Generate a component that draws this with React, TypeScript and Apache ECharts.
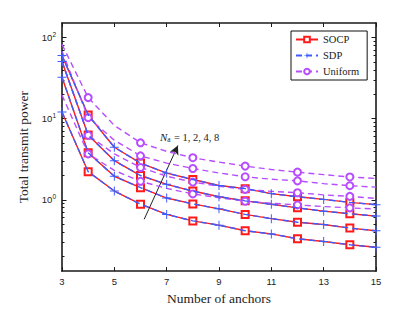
import React, { useEffect, useRef } from 'react';
import * as echarts from 'echarts';

const anchors = [3, 4, 5, 6, 7, 8, 9, 10, 11, 12, 13, 14, 15];
const seriesNames = ['SOCP', 'SDP', 'Uniform'];
const annotationText = '= 1, 2, 4, 8';
const yMajorExponents = [0, 1, 2];
const yMinLog = -0.88;
const yMaxLog = 2.18;

const socpNa1 = [12.1, 2.22, 1.28, 0.883, 0.66, 0.548, 0.486, 0.415, 0.379, 0.33, 0.306, 0.279, 0.259];
const socpNa2 = [32.5, 3.79, 1.95, 1.41, 1.05, 0.888, 0.773, 0.66, 0.585, 0.528, 0.496, 0.447, 0.415];
const socpNa4 = [50.7, 6.29, 3.03, 1.99, 1.55, 1.28, 1.09, 0.97, 0.88, 0.794, 0.723, 0.673, 0.629];
const socpNa8 = [60, 11.1, 4.44, 2.83, 2.13, 1.78, 1.5, 1.37, 1.19, 1.09, 1.01, 0.928, 0.87];

const sdpNa1 = [12.1, 2.22, 1.28, 0.883, 0.66, 0.548, 0.486, 0.415, 0.379, 0.33, 0.306, 0.279, 0.259];
const sdpNa2 = [32.5, 3.79, 1.95, 1.41, 1.05, 0.888, 0.773, 0.66, 0.585, 0.528, 0.496, 0.447, 0.415];
const sdpNa4 = [50.7, 6.29, 3.03, 1.99, 1.55, 1.28, 1.09, 0.97, 0.88, 0.794, 0.723, 0.673, 0.629];
const sdpNa8 = [60, 11.1, 4.44, 2.83, 2.13, 1.78, 1.5, 1.37, 1.19, 1.09, 1.01, 0.928, 0.87];

const uniformNa1 = [19.5, 3.68, 2.3, 1.69, 1.38, 1.18, 1.06, 0.959, 0.907, 0.863, 0.824, 0.794, 0.768];
const uniformNa2 = [50.7, 6.24, 3.68, 2.5, 1.95, 1.65, 1.47, 1.34, 1.27, 1.22, 1.15, 1.1, 1.04];
const uniformNa4 = [67.8, 10.3, 5.43, 3.48, 2.83, 2.43, 2.14, 1.92, 1.79, 1.71, 1.58, 1.49, 1.43];
const uniformNa8 = [82.4, 18.2, 8.24, 5.04, 3.95, 3.3, 2.91, 2.6, 2.36, 2.19, 2.04, 1.91, 1.83];

const RED = '#ff1a1a';
const BLUE = '#3d5cff';
const PURPLE = '#b84dff';
const PLUS = 'path://M0,4.45H4.45V0H5.55V4.45H10V5.55H5.55V10H4.45V5.55H0Z';
const SERIF = '"Liberation Serif", "DejaVu Serif", serif';
const SANS = '"Liberation Sans", Arial, sans-serif';

function makeSeries(
  name: string,
  vals: number[],
  color: string,
  lineType: any,
  symbol: string,
  onEven: boolean,
  symbolSize: number,
  borderWidth: number,
  z: number
): any {
  return {
    type: 'line',
    name,
    z,
    symbol,
    symbolSize,
    showSymbol: true,
    lineStyle: { color, width: 1.4, type: lineType },
    itemStyle: { color, borderColor: color, borderWidth },
    data: anchors.map((x, i) => ({
      value: [x, Math.log10(vals[i])],
      symbol: (x % 2 === 0) === onEven ? symbol : 'none',
    })),
  };
}

function minorTicks(): number[] {
  const out: number[] = [];
  for (let d = -1; d <= 2; d++) {
    for (let k = 2; k <= 9; k++) {
      const v = Math.log10(k * Math.pow(10, d));
      if (v > yMinLog && v < yMaxLog) out.push(v);
    }
  }
  return out;
}

export default function App() {
  const ref = useRef<HTMLDivElement>(null);
  useEffect(() => {
    if (!ref.current) return;
    const chart = echarts.init(ref.current, null, { renderer: 'svg' });
    const minors = minorTicks();
    const frameLine = { show: true, onZero: false, lineStyle: { color: '#1a1a1a', width: 1.6 } };
    const xBase = { type: 'value', min: 3, max: 15, interval: 2, splitLine: { show: false }, gridIndex: 0 };
    const yBase = { type: 'value', min: yMinLog, max: yMaxLog, splitLine: { show: false }, gridIndex: 0 };

    const series: any[] = [];
    [socpNa1, socpNa2, socpNa4, socpNa8].forEach((v, i) =>
      series.push(makeSeries(seriesNames[0], v, RED, 'solid', 'emptyRect', true, 7, 1.1, 2 + i))
    );
    [sdpNa1, sdpNa2, sdpNa4, sdpNa8].forEach((v, i) =>
      series.push(makeSeries(seriesNames[1], v, BLUE, [6, 4], PLUS, false, 9, 0, 10 + i))
    );
    [uniformNa1, uniformNa2, uniformNa4, uniformNa8].forEach((v, i) =>
      series.push(makeSeries(seriesNames[2], v, PURPLE, [6, 4], 'emptyCircle', true, 7, 1.1, 6 + i))
    );
    series[0].markLine = {
      silent: true,
      symbol: ['none', 'arrow'],
      symbolSize: [7, 9],
      label: { show: false },
      lineStyle: { color: '#222', width: 1, type: 'solid' },
      data: [[{ coord: [6.14, -0.241] }, { coord: [7.43, 0.669] }]],
    };

    chart.setOption({
      animation: false,
      backgroundColor: '#fff',
      grid: { left: 46, right: 32, top: 15, bottom: 33 },
      legend: {
        data: seriesNames,
        orient: 'vertical',
        left: 283,
        top: 23,
        padding: [3, 8, 3, 4],
        itemGap: 5,
        itemWidth: 22,
        itemHeight: 7,
        borderColor: '#111',
        borderWidth: 1,
        backgroundColor: '#fff',
        textStyle: { fontFamily: SERIF, fontSize: 10.5, color: '#222' },
      },
      xAxis: [
        {
          ...xBase,
          position: 'bottom',
          name: 'Number of anchors',
          nameLocation: 'middle',
          nameGap: 19,
          nameTextStyle: { fontFamily: SERIF, fontSize: 13.5, color: '#222' },
          axisLine: frameLine,
          axisTick: { show: true, inside: true, length: 4, lineStyle: { color: '#1a1a1a', width: 1 } },
          axisLabel: { show: true, margin: 5, fontFamily: SANS, fontSize: 9.5, color: '#222' },
        },
        {
          ...xBase,
          position: 'top',
          axisLine: frameLine,
          axisTick: { show: true, inside: true, length: 4, lineStyle: { color: '#1a1a1a', width: 1 } },
          axisLabel: { show: false },
        },
      ],
      yAxis: [
        {
          ...yBase,
          position: 'left',
          name: 'Total transmit power',
          nameLocation: 'middle',
          nameGap: 32,
          nameTextStyle: { fontFamily: SERIF, fontSize: 13.5, color: '#222' },
          axisLine: frameLine,
          axisTick: {
            show: true,
            inside: true,
            length: 4.5,
            customValues: yMajorExponents,
            lineStyle: { color: '#1a1a1a', width: 1 },
          },
          axisLabel: {
            show: true,
            margin: 6,
            customValues: yMajorExponents,
            formatter: (v: number) => `{b|10}{e|${Math.round(v)}}`,
            rich: {
              b: { fontFamily: SANS, fontSize: 9.5, color: '#222' },
              e: { fontFamily: SANS, fontSize: 6.5, color: '#222', padding: [0, 0, 7, 0] },
            },
          },
        },
        {
          ...yBase,
          position: 'left',
          axisLine: { show: false },
          axisTick: {
            show: true,
            inside: true,
            length: 2.5,
            customValues: minors,
            lineStyle: { color: '#1a1a1a', width: 1 },
          },
          axisLabel: { show: false },
        },
        {
          ...yBase,
          position: 'right',
          axisLine: frameLine,
          axisTick: {
            show: true,
            inside: true,
            length: 4.5,
            customValues: yMajorExponents,
            lineStyle: { color: '#1a1a1a', width: 1 },
          },
          axisLabel: { show: false },
        },
        {
          ...yBase,
          position: 'right',
          axisLine: { show: false },
          axisTick: {
            show: true,
            inside: true,
            length: 2.5,
            customValues: minors,
            lineStyle: { color: '#1a1a1a', width: 1 },
          },
          axisLabel: { show: false },
        },
      ],
      graphic: [
        {
          type: 'text',
          left: 152,
          top: 123,
          z: 50,
          style: {
            text: `{n|N}{s|a} {t|${annotationText}}`,
            rich: {
              n: { fontFamily: SERIF, fontStyle: 'italic', fontSize: 11, fill: '#222' },
              s: { fontFamily: SERIF, fontSize: 7.5, fill: '#222', padding: [5, 0, 0, 0] },
              t: { fontFamily: SERIF, fontSize: 10.5, fill: '#222' },
            },
          },
        },
      ],
      series,
    });
    return () => chart.dispose();
  }, []);
  return <div ref={ref} style={{ width: 400, height: 302 }} />;
}
